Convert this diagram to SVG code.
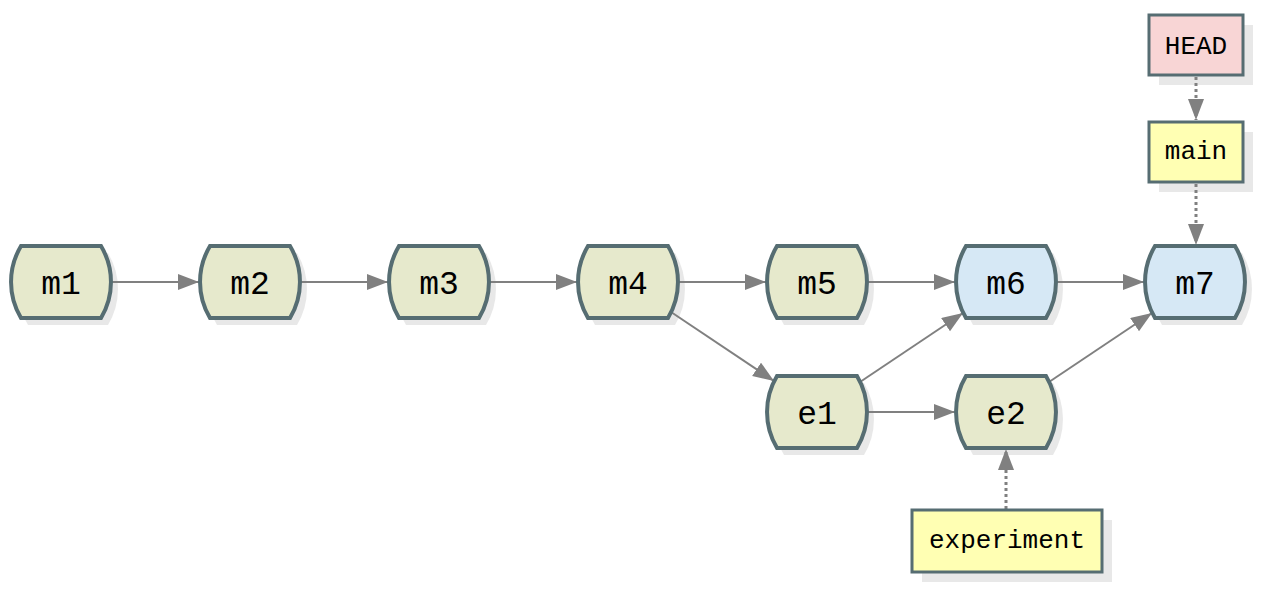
<svg xmlns="http://www.w3.org/2000/svg" xmlns:xlink="http://www.w3.org/1999/xlink" width="1262" height="591" viewBox="0 0 1262 591">
<style>
.node{stroke:#566d72;stroke-width:4}
.green{fill:#e6e9cc}
.blue{fill:#d6e8f5}
.shadow{fill:#e8e8e8}
.lbl{font-family:"Liberation Mono","DejaVu Sans Mono",monospace;font-size:33px;fill:#000;text-anchor:middle}
.blbl{font-family:"Liberation Mono","DejaVu Sans Mono",monospace;font-size:26px;fill:#000;text-anchor:middle}
.box{stroke:#566d72;stroke-width:3}
.edge{stroke:#808080;stroke-width:2;fill:none}
.dot{stroke:#808080;stroke-width:3;stroke-dasharray:3 3;fill:none}
</style>
<defs>
<path id="hex" d="M-40,-36 L40,-36 A70 70 0 0 1 40,36 L-40,36 A70 70 0 0 1 -40,-36 Z"/>
<marker id="arr" markerUnits="userSpaceOnUse" markerWidth="22" markerHeight="18" refX="21" refY="8" orient="auto">
<path d="M0,0 L21,8 L0,16 Z" fill="#808080"/>
</marker>
</defs>
<g id="shadows" class="shadow">
<use xlink:href="#hex" x="68" y="289"/>
<use xlink:href="#hex" x="257" y="289"/>
<use xlink:href="#hex" x="446" y="289"/>
<use xlink:href="#hex" x="635" y="289"/>
<use xlink:href="#hex" x="824" y="289"/>
<use xlink:href="#hex" x="1013" y="289"/>
<use xlink:href="#hex" x="1202" y="289"/>
<use xlink:href="#hex" x="824" y="419"/>
<use xlink:href="#hex" x="1013" y="419"/>
<rect x="1159" y="25" width="94" height="60"/>
<rect x="1159" y="132" width="94" height="60"/>
<rect x="922" y="520" width="190" height="62"/>
</g>
<g id="connectors">
<line class="edge" x1="111" y1="282" x2="199" y2="282" marker-end="url(#arr)"/>
<line class="edge" x1="300" y1="282" x2="388" y2="282" marker-end="url(#arr)"/>
<line class="edge" x1="489" y1="282" x2="577" y2="282" marker-end="url(#arr)"/>
<line class="edge" x1="678" y1="282" x2="766" y2="282" marker-end="url(#arr)"/>
<line class="edge" x1="867" y1="282" x2="955" y2="282" marker-end="url(#arr)"/>
<line class="edge" x1="1056" y1="282" x2="1144" y2="282" marker-end="url(#arr)"/>
<line class="edge" x1="671" y1="312" x2="774" y2="381" marker-end="url(#arr)"/>
<line class="edge" x1="860" y1="382" x2="963" y2="313" marker-end="url(#arr)"/>
<line class="edge" x1="867" y1="412" x2="955" y2="412" marker-end="url(#arr)"/>
<line class="edge" x1="1049" y1="382" x2="1152" y2="313" marker-end="url(#arr)"/>
<line class="dot" x1="1196" y1="77" x2="1196" y2="120" marker-end="url(#arr)"/>
<line class="dot" x1="1196" y1="184" x2="1196" y2="245" marker-end="url(#arr)"/>
<line class="dot" x1="1006" y1="509" x2="1006" y2="449" marker-end="url(#arr)"/>
</g>
<g id="m1" transform="translate(61,282)"><use xlink:href="#hex" class="node green"/><text class="lbl" y="12">m1</text></g>
<g id="m2" transform="translate(250,282)"><use xlink:href="#hex" class="node green"/><text class="lbl" y="12">m2</text></g>
<g id="m3" transform="translate(439,282)"><use xlink:href="#hex" class="node green"/><text class="lbl" y="12">m3</text></g>
<g id="m4" transform="translate(628,282)"><use xlink:href="#hex" class="node green"/><text class="lbl" y="12">m4</text></g>
<g id="m5" transform="translate(817,282)"><use xlink:href="#hex" class="node green"/><text class="lbl" y="12">m5</text></g>
<g id="m6" transform="translate(1006,282)"><use xlink:href="#hex" class="node blue"/><text class="lbl" y="12">m6</text></g>
<g id="m7" transform="translate(1195,282)"><use xlink:href="#hex" class="node blue"/><text class="lbl" y="12">m7</text></g>
<g id="e1" transform="translate(817,412)"><use xlink:href="#hex" class="node green"/><text class="lbl" y="12">e1</text></g>
<g id="e2" transform="translate(1006,412)"><use xlink:href="#hex" class="node green"/><text class="lbl" y="12">e2</text></g>
<g id="HEAD"><rect class="box" x="1149" y="15" width="94" height="60" fill="#f8d5d5"/><text class="blbl" x="1196" y="54">HEAD</text></g>
<g id="main"><rect class="box" x="1149" y="122" width="94" height="60" fill="#ffffb3"/><text class="blbl" x="1196" y="159">main</text></g>
<g id="experiment"><rect class="box" x="912" y="510" width="190" height="62" fill="#ffffb3"/><text class="blbl" x="1007" y="548">experiment</text></g>
</svg>
